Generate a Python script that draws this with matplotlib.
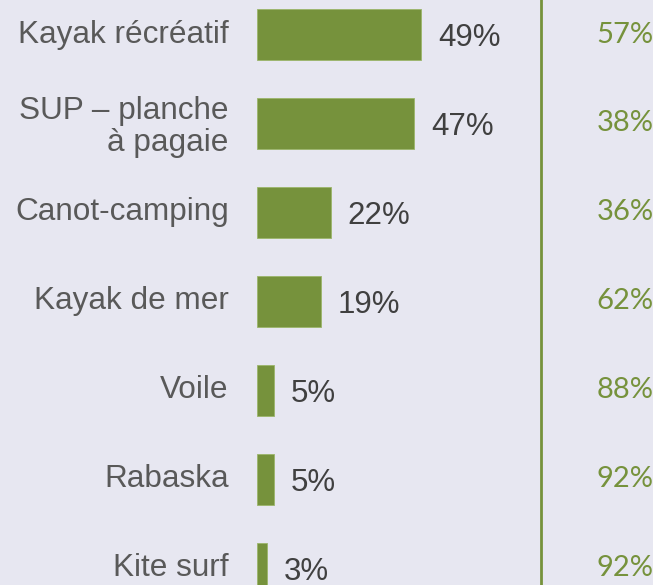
import matplotlib.pyplot as plt

activities = ["Kayak récréatif", "SUP – planche\nà pagaie", "Canot-camping",
              "Kayak de mer", "Voile", "Rabaska", "Kite surf"]
share = [49, 47, 22, 19, 5, 5, 3]
right_values = ["57%", "38%", "36%", "62%", "88%", "92%", "92%"]

bg = "#E7E7F1"
green = "#76923C"

fig = plt.figure(figsize=(6.53, 5.85), dpi=100, facecolor=bg)
ax = fig.add_axes([0, 0, 1, 1], facecolor=bg)

y = list(range(len(activities)))
ax.barh(y, share, height=0.57, color=green, edgecolor="#9BB56A", linewidth=0.6)

for i, (name, v, r) in enumerate(zip(activities, share, right_values)):
    dy = 0.04 if "\n" in name else 0
    ax.text(-8.4, i + dy, name, ha="right", va="center", fontsize=22.7,
            color="#595959", family="Liberation Sans", linespacing=1.12)
    ax.text(v + 5, i + 0.04, f"{v}%", ha="left", va="center", fontsize=22.5,
            color="#404040", family="Liberation Sans")
    ax.text(118.4, i, r, ha="right", va="center", fontsize=21,
            color=green, family="Lato")

ax.axvline(84.8, color=green, linewidth=2)

ax.set_xlim(-76.7, 118.2)
ax.set_ylim(6.19, -0.388)
ax.axis("off")

fig.savefig("out.png", dpi=100, facecolor=bg)
